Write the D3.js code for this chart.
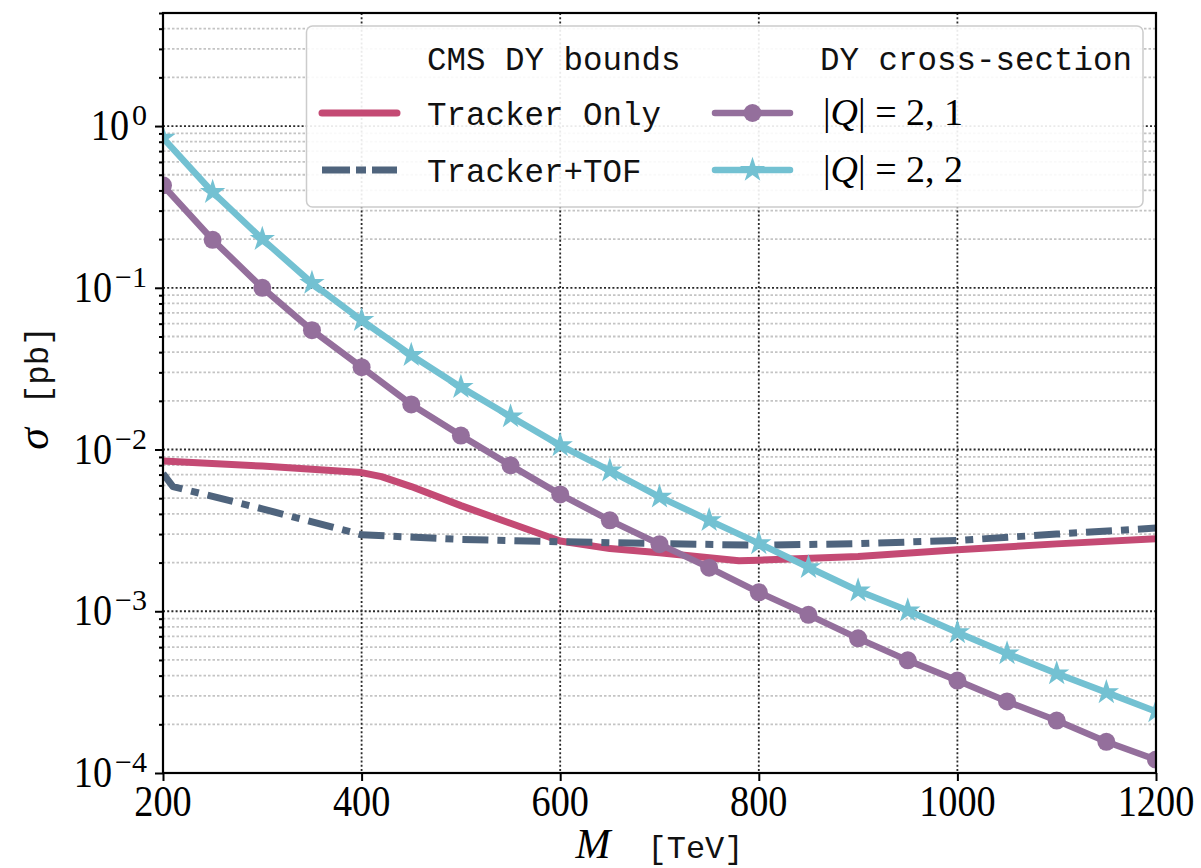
<!DOCTYPE html>
<html>
<head>
<meta charset="utf-8">
<script src="https://cdn.jsdelivr.net/npm/d3@7"></script>
<style>
body{margin:0;background:#ffffff;}
svg{display:block;}
.serif{font-family:"Liberation Serif","DejaVu Serif",serif;fill:#000;}
.mono{font-family:"Liberation Mono","DejaVu Sans Mono",monospace;fill:#111;}
</style>
</head>
<body>
<svg></svg>
<script>

// data
var massPoints = [200,250,300,350,400,450,500,550,600,650,700,750,800,850,900,950,1000,1050,1100,1150,1200];
var sigmaQ21 = [0.43,0.198,0.100,0.0547,0.0323,0.0190,0.0122,0.00798,0.00528,0.00365,0.00260,0.00186,0.00131,0.00095,0.00068,0.000497,0.000373,0.000277,0.000211,0.000156,0.000121];
var sigmaQ22 = [0.845,0.39,0.200,0.107,0.063,0.0383,0.0243,0.0160,0.0106,0.00740,0.00510,0.00365,0.00263,0.00187,0.00134,0.00101,0.00074,0.000548,0.000412,0.000315,0.000240];

var trackerMass  = [200,300,400,420,450,500,600,650,700,780,800,900,1000,1100,1200];
var trackerBound = [0.0085,0.0079,0.0072,0.0068,0.0059,0.0045,0.00272,0.00244,0.00230,0.00205,0.00207,0.00218,0.00240,0.00261,0.00281];

var tofMass  = [200,210,300,400,500,600,700,800,900,1000,1100,1200];
var tofBound = [0.0071,0.0059,0.0043,0.00297,0.00278,0.00269,0.00262,0.00256,0.00262,0.00274,0.00300,0.00327];

var xTicks = [200,400,600,800,1000,1200];
var yTicks = [1e-4,1e-3,1e-2,1e-1,1];
var yTickExp = ["\u22124","\u22123","\u22122","\u22121","0"];

var boundTitle = "CMS DY bounds";
var boundNames = ["Tracker Only","Tracker+TOF"];
var xsecTitle = "DY cross-section";
var xsecCharges = ["2, 1","2, 2"];

var colors = {tracker:"#c44a74", tof:"#4f647d", q21:"#946f9c", q22:"#73c1d2"};
var dashDot = "26,9,8,9";

var screen = {width:1201, height:868};
var plot = {left:163, right:1156, top:13, bottom:773};

var svg = d3.select("svg")
    .attr("width",screen.width)
    .attr("height",screen.height);

var xScale = d3.scaleLinear()
    .domain([200,1200])
    .range([plot.left,plot.right]);

var yScale = d3.scaleLog()
    .domain([1e-4,5])
    .range([plot.bottom,plot.top]);

var minorY = yScale.ticks().filter(function(v){
    return yTicks.indexOf(v) < 0 && v <= 5;
});

var drawGrid = function()
{
    var grid = svg.append("g").classed("grid",true);

    grid.selectAll("line.minor")
        .data(minorY)
        .enter()
        .append("line")
        .attr("x1",plot.left).attr("x2",plot.right)
        .attr("y1",function(d){return yScale(d);})
        .attr("y2",function(d){return yScale(d);})
        .attr("stroke","#c4c4c4")
        .attr("stroke-width",1.8)
        .attr("stroke-dasharray","2.5,2");

    grid.selectAll("line.majory")
        .data(yTicks)
        .enter()
        .append("line")
        .attr("x1",plot.left).attr("x2",plot.right)
        .attr("y1",function(d){return yScale(d);})
        .attr("y2",function(d){return yScale(d);})
        .attr("stroke","#2a2a2a")
        .attr("stroke-width",1.8)
        .attr("stroke-dasharray","2,2.2");

    grid.selectAll("line.majorx")
        .data(xTicks)
        .enter()
        .append("line")
        .attr("y1",plot.top).attr("y2",plot.bottom)
        .attr("x1",function(d){return xScale(d);})
        .attr("x2",function(d){return xScale(d);})
        .attr("stroke","#2a2a2a")
        .attr("stroke-width",1.8)
        .attr("stroke-dasharray","2,2.2");
}

var drawSeries = function()
{
    svg.append("clipPath")
        .attr("id","plotClip")
        .append("rect")
        .attr("x",plot.left).attr("y",plot.top)
        .attr("width",plot.right-plot.left)
        .attr("height",plot.bottom-plot.top);

    var g = svg.append("g").attr("clip-path","url(#plotClip)");

    var line = d3.line()
        .x(function(d){return xScale(d[0]);})
        .y(function(d){return yScale(d[1]);});

    var bounds = [
        {pts:d3.zip(trackerMass,trackerBound), color:colors.tracker, dash:null},
        {pts:d3.zip(tofMass,tofBound), color:colors.tof, dash:dashDot}
    ];

    bounds.forEach(function(b){
        g.append("path")
            .datum(b.pts)
            .attr("d",line)
            .attr("fill","none")
            .attr("stroke",b.color)
            .attr("stroke-width",7)
            .attr("stroke-linejoin","round")
            .attr("stroke-dasharray",b.dash);
    });

    var xsecs = [
        {pts:d3.zip(massPoints,sigmaQ21), color:colors.q21, symbol:d3.symbolCircle, size:Math.PI*81},
        {pts:d3.zip(massPoints,sigmaQ22), color:colors.q22, symbol:d3.symbolStar, size:200}
    ];

    xsecs.forEach(function(s){
        g.append("path")
            .datum(s.pts)
            .attr("d",line)
            .attr("fill","none")
            .attr("stroke",s.color)
            .attr("stroke-width",6.5)
            .attr("stroke-linejoin","round");

        g.selectAll(null)
            .data(s.pts)
            .enter()
            .append("path")
            .attr("d",d3.symbol().type(s.symbol).size(s.size))
            .attr("transform",function(d){
                return "translate("+xScale(d[0])+","+yScale(d[1])+")";
            })
            .attr("fill",s.color);
    });
}

var drawAxes = function()
{
    var axes = svg.append("g").classed("axes",true);

    axes.append("g")
        .attr("transform","translate(0,"+plot.bottom+")")
        .call(d3.axisBottom(xScale).tickValues(xTicks).tickSize(8).tickSizeOuter(0).tickFormat(""));

    axes.append("g")
        .attr("transform","translate("+plot.left+",0)")
        .call(d3.axisLeft(yScale).tickValues(yTicks).tickSize(8).tickSizeOuter(0).tickFormat(""));

    axes.append("g")
        .attr("transform","translate("+plot.left+",0)")
        .call(d3.axisLeft(yScale).tickValues(minorY).tickSize(4).tickSizeOuter(0).tickFormat(""));

    axes.selectAll(".domain").remove();
    axes.selectAll(".tick line").attr("stroke","#000").attr("stroke-width",2);

    axes.append("rect")
        .attr("x",plot.left).attr("y",plot.top)
        .attr("width",plot.right-plot.left)
        .attr("height",plot.bottom-plot.top)
        .attr("fill","none")
        .attr("stroke","#000")
        .attr("stroke-width",2.2);

    //x tick labels
    axes.selectAll("text.xlab")
        .data(xTicks)
        .enter()
        .append("text")
        .classed("serif",true)
        .attr("text-anchor","middle")
        .attr("font-size",44)
        .attr("transform",function(d){
            return "translate("+xScale(d)+",816) scale(0.87,1)";
        })
        .text(function(d){return d;});

    //y tick labels as 10^n
    yTicks.forEach(function(v,i){
        var g = axes.append("g")
            .attr("transform","translate(147,"+(yScale(v)-1)+")");
        var sup = g.append("text")
            .classed("serif",true)
            .attr("text-anchor","end")
            .attr("font-size",30)
            .text(yTickExp[i]);
        var w = sup.node().getComputedTextLength();
        g.append("text")
            .classed("serif",true)
            .attr("text-anchor","end")
            .attr("font-size",45)
            .attr("transform","scale(0.85,1)")
            .attr("x",(-w-3)/0.85)
            .attr("y",15)
            .text("10");
    });
}

var drawLabels = function()
{
    var labels = svg.append("g").classed("labels",true);

    var xl = labels.append("text")
        .attr("text-anchor","middle")
        .attr("x",(plot.left+plot.right)/2)
        .attr("y",858);
    xl.append("tspan")
        .classed("serif",true)
        .attr("font-style","italic")
        .attr("font-size",42)
        .text("M");
    xl.append("tspan")
        .classed("mono",true)
        .attr("font-size",32)
        .attr("dx",37)
        .text("[TeV]");

    var yl = labels.append("text")
        .attr("text-anchor","middle")
        .attr("transform","translate(48,388) rotate(-90)");
    yl.append("tspan")
        .classed("serif",true)
        .attr("font-style","italic")
        .attr("font-size",44)
        .text("\u03c3");
    yl.append("tspan")
        .classed("mono",true)
        .attr("font-size",32.5)
        .attr("dx",24)
        .text("[pb]");
}

var drawLegend = function()
{
    var legend = svg.append("g").classed("legend",true);

    legend.append("rect")
        .attr("x",306.5).attr("y",26)
        .attr("width",836.5).attr("height",181)
        .attr("rx",6)
        .attr("fill","#ffffff")
        .attr("fill-opacity",0.9)
        .attr("stroke","#cccccc")
        .attr("stroke-width",1.5);

    var rowY = [113,170];
    var textY = [125,182];

    legend.append("text")
        .classed("mono",true)
        .attr("font-size",32.5)
        .attr("x",427).attr("y",70)
        .text(boundTitle);

    legend.append("text")
        .classed("mono",true)
        .attr("font-size",32.5)
        .attr("x",820).attr("y",70)
        .text(xsecTitle);

    var boundColors = [colors.tracker,colors.tof];
    var boundDash = [null,"28,6,10,6"];
    boundNames.forEach(function(name,i){
        legend.append("line")
            .attr("x1",322).attr("x2",397)
            .attr("y1",rowY[i]).attr("y2",rowY[i])
            .attr("stroke",boundColors[i])
            .attr("stroke-width",7)
            .attr("stroke-linecap",i==0?"round":"butt")
            .attr("stroke-dasharray",boundDash[i]);
        legend.append("text")
            .classed("mono",true)
            .attr("font-size",32.5)
            .attr("x",427).attr("y",textY[i])
            .text(name);
    });

    var xsecColors = [colors.q21,colors.q22];
    var xsecSymbols = [d3.symbol().type(d3.symbolCircle).size(Math.PI*81),
                       d3.symbol().type(d3.symbolStar).size(200)];
    xsecCharges.forEach(function(q,i){
        legend.append("line")
            .attr("x1",715).attr("x2",790)
            .attr("y1",rowY[i]).attr("y2",rowY[i])
            .attr("stroke",xsecColors[i])
            .attr("stroke-width",6.5)
            .attr("stroke-linecap","round");
        legend.append("path")
            .attr("d",xsecSymbols[i])
            .attr("transform","translate(752.5,"+rowY[i]+")")
            .attr("fill",xsecColors[i]);
        var t = legend.append("text")
            .classed("serif",true)
            .attr("font-size",38)
            .attr("x",823).attr("y",textY[i]);
        t.append("tspan").text("|");
        t.append("tspan").attr("font-style","italic").text("Q");
        t.append("tspan").text("| = "+q);
    });
}

drawGrid();
drawSeries();
drawAxes();
drawLabels();
drawLegend();

</script>
</body>
</html>
